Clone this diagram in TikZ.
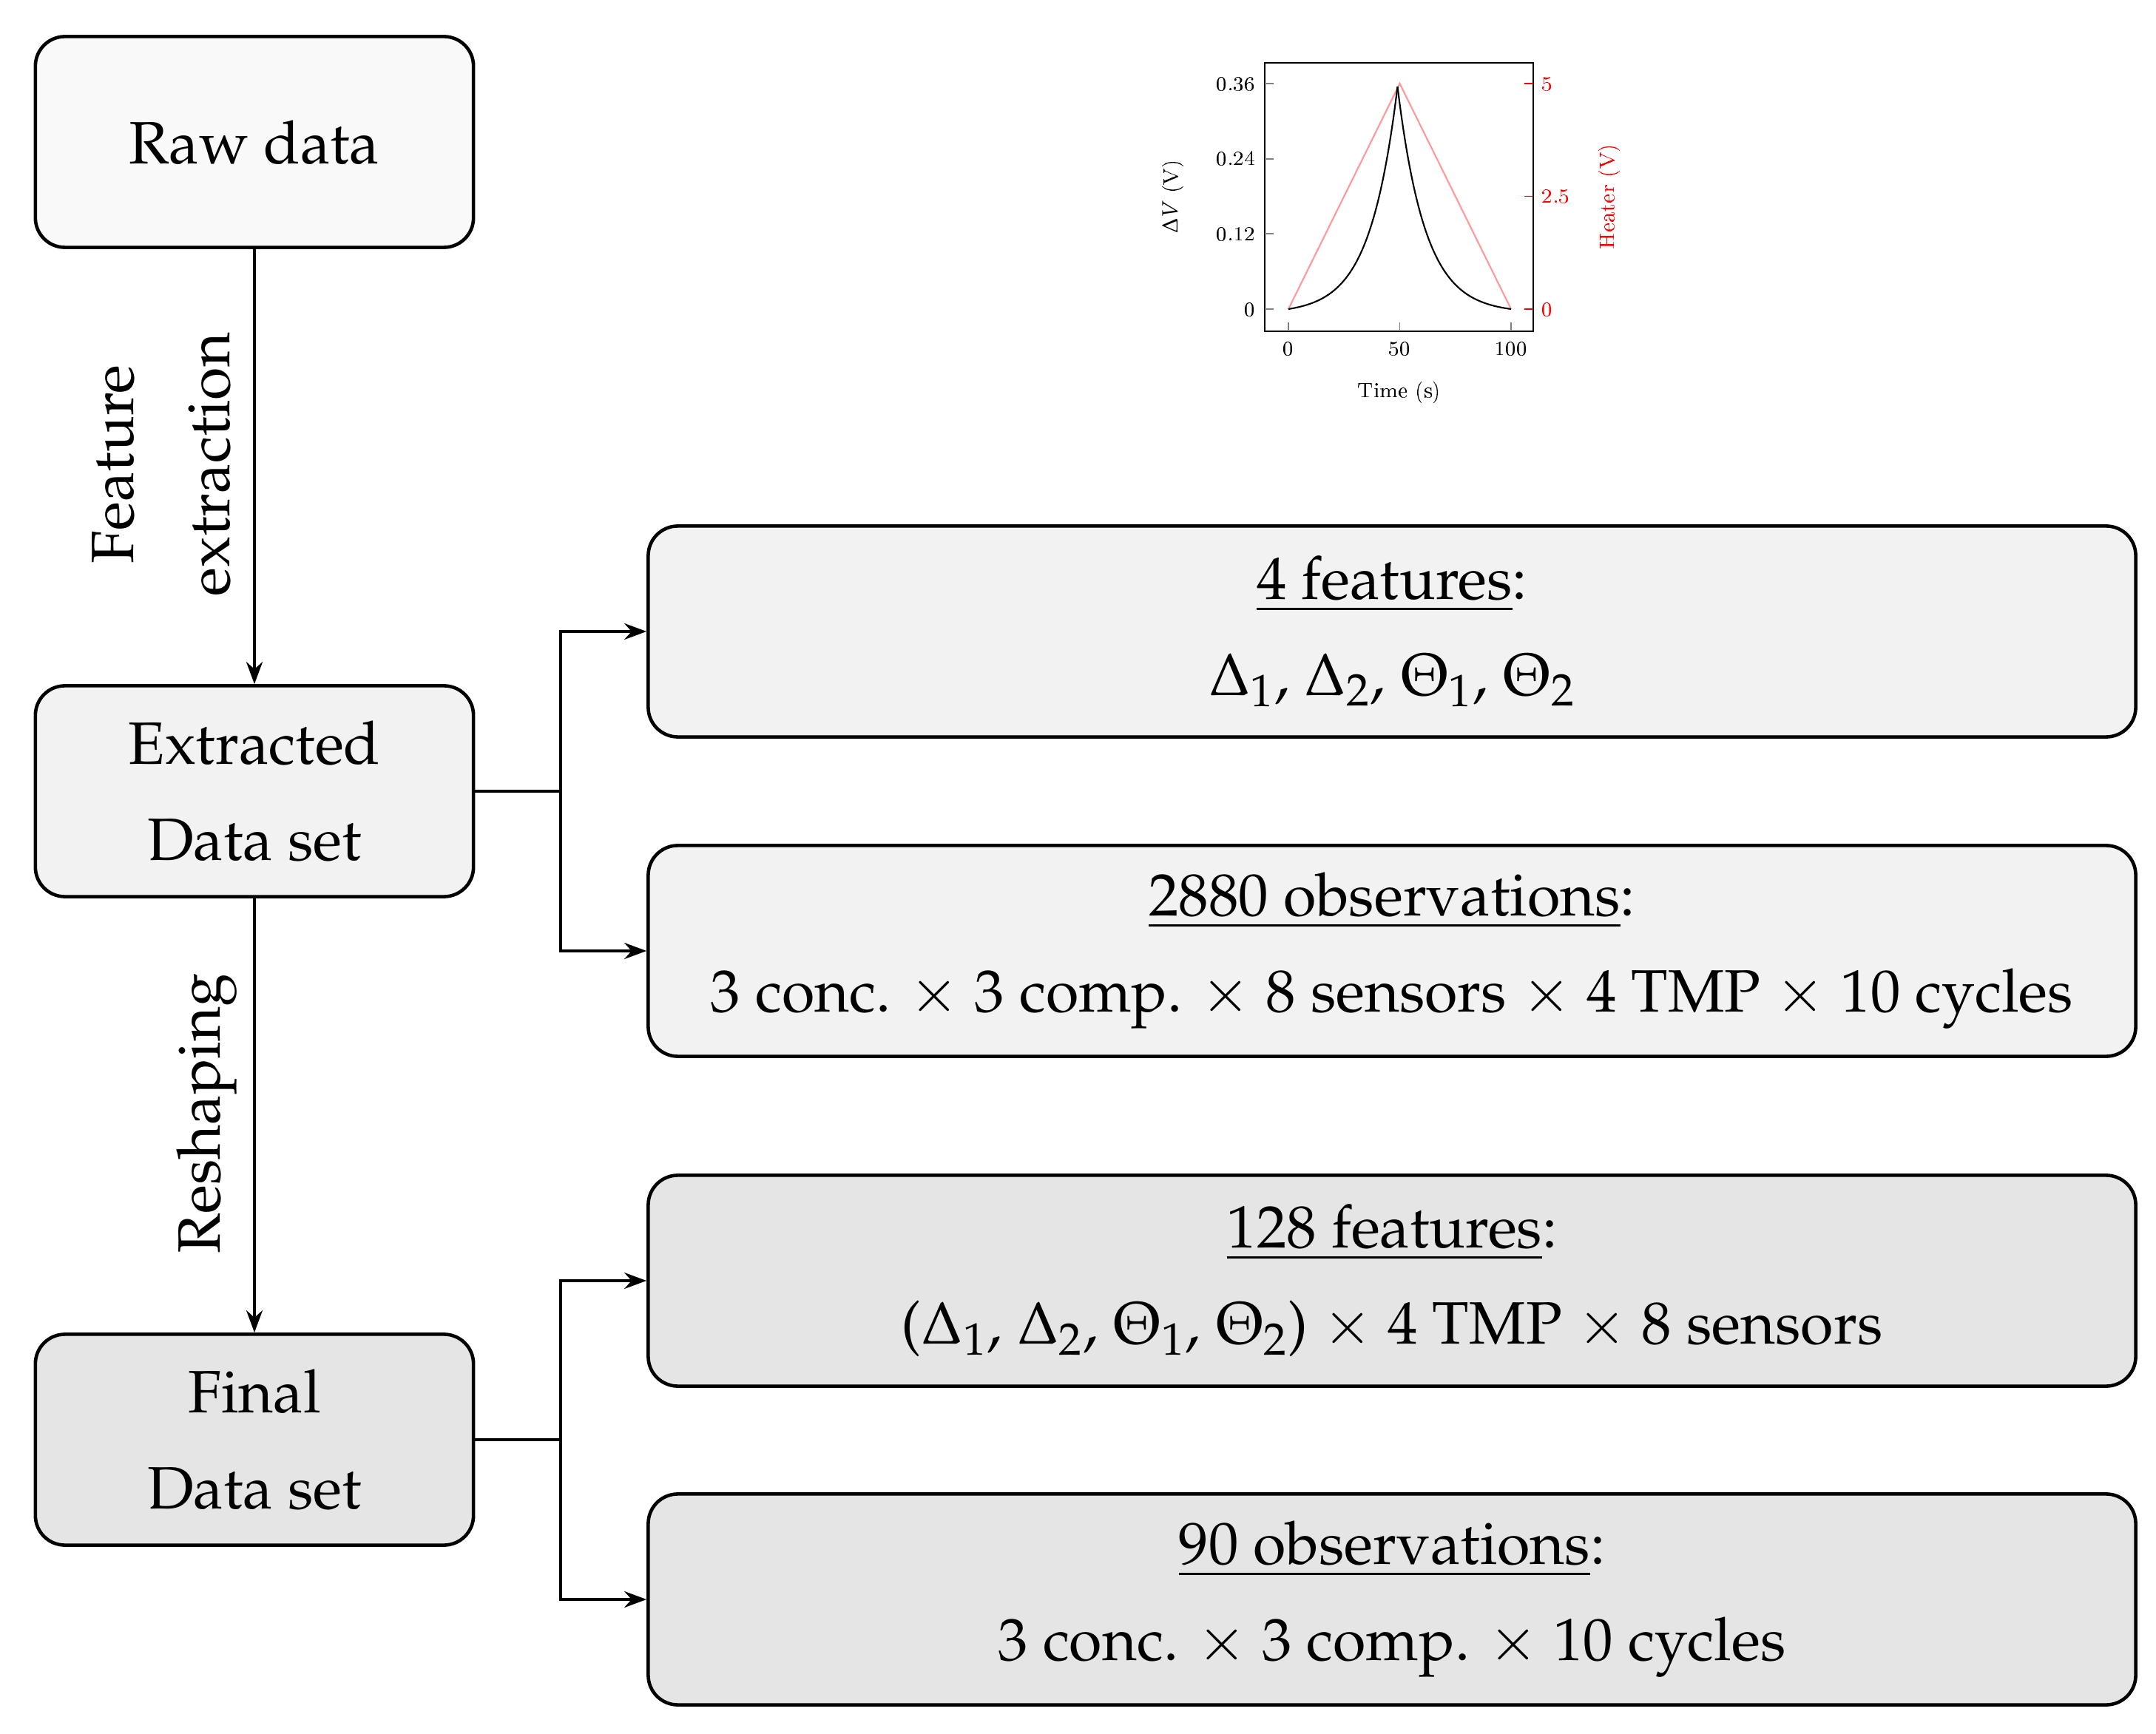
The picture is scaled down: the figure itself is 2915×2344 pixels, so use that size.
\documentclass[tikz,border=0pt]{standalone}
\usepackage[T1]{fontenc}
\usepackage{mathpazo}
\usetikzlibrary{arrows.meta}
\begin{document}
\begin{tikzpicture}[x=0.01cm,y=0.01cm,
  box/.style={draw,line width=1.3pt,rounded corners=0.4cm,align=center,
     font=\fontsize{23}{37}\selectfont,inner sep=0pt},
  lbox/.style={box,minimum width=5.92cm,minimum height=2.85cm},
  rbox/.style={box,minimum width=20.1cm,minimum height=2.85cm},
  arr/.style={line width=1.1pt,-{Stealth[length=0.3cm,width=0.22cm]}},
  ln/.style={line width=1.1pt},
  lab/.style={font=\fontsize{23}{37}\selectfont,align=center,rotate=90},
  sm/.style={font=\fontfamily{lmr}\fontsize{8.5}{10}\selectfont,inner sep=1pt}]
\useasboundingbox (0,0) rectangle (2915,2344);
\node[lbox,fill=gray!5] (raw) at (344,2152) {Raw data};
\node[lbox,fill=gray!10] (ext) at (344,1274) {Extracted\\Data set};
\node[lbox,fill=gray!20] (fin) at (344,397) {Final\\Data set};
\node[rbox,fill=gray!10] (b1) at (1882,1490) {\underline{4 features}:\\$\Delta_1$, $\Delta_2$, $\Theta_1$, $\Theta_2$};
\node[rbox,fill=gray!10] (b2) at (1882,1058) {\underline{2880 observations}:\\3 conc. $\times$ 3 comp. $\times$ 8 sensors $\times$ 4 TMP $\times$ 10 cycles};
\node[rbox,fill=gray!20] (b3) at (1882,612) {\underline{128 features}:\\($\Delta_1$, $\Delta_2$, $\Theta_1$, $\Theta_2$) $\times$ 4 TMP $\times$ 8 sensors};
\node[rbox,fill=gray!20] (b4) at (1882,181) {\underline{90 observations}:\\3 conc. $\times$ 3 comp. $\times$ 10 cycles};
\draw[arr] (raw) -- (ext);
\draw[arr] (ext) -- (fin);
\node[lab] (l1) at (218,1716) {Feature\\extraction};
\node[lab] (l2) at (280,838) {Reshaping};
\coordinate (j1) at (758,1274);
\coordinate (j2) at (758,397);
\draw[ln] (ext.east) -- (j1);
\draw[arr] (j1) |- (b1.west);
\draw[arr] (j1) |- (b2.west);
\draw[ln] (fin.east) -- (j2);
\draw[arr] (j2) |- (b3.west);
\draw[arr] (j2) |- (b4.west);
% plot
\draw[line width=0.6pt] (1710,1896) rectangle (2073,2259);
\foreach \v/\t in {0/0,0.12/0.12,0.24/0.24,0.36/0.36}{
  \draw[gray,line width=0.5pt] (1710,1926+847*\v) -- ++(12,0);
  \node[sm,anchor=east] at (1702,1926+847*\v) {\t};}
\foreach \h/\t in {0/0,2.5/2.5,5/5}{
  \draw[red,line width=0.5pt] (2073,1926+61*\h) -- ++(-12,0);
  \node[sm,anchor=west,text=red] at (2080,1926+61*\h) {\t};}
\foreach \x in {0,50,100}{
  \draw[gray,line width=0.5pt] (1742+3.01*\x,1896) -- ++(0,12);
  \node[sm,anchor=north] at (1742+3.01*\x,1886) {\x};}
\node[sm] (tl) at (1892,1814) {Time (s)};
\node[sm,rotate=90] (yl) at (1585,2078) {$\Delta V$ (V)};
\node[sm,rotate=90,text=red] (hl) at (2175,2078) {Heater (V)};
\draw[red!40,line width=0.6pt] (1742,1926) -- (1742+150.5,1926+305) -- (1742+301,1926);
\draw[line width=0.6pt,smooth,samples=60,domain=0:49] plot ({1742+3.01*\x},{1926+300.7*((exp(0.08*\x)-1)/49.4)});
\draw[line width=0.6pt,smooth,samples=60,domain=49:100] plot ({1742+3.01*\x},{1926+300.7*((exp(0.08*(100-\x))-1)/58.15)});
\end{tikzpicture}
\end{document}
